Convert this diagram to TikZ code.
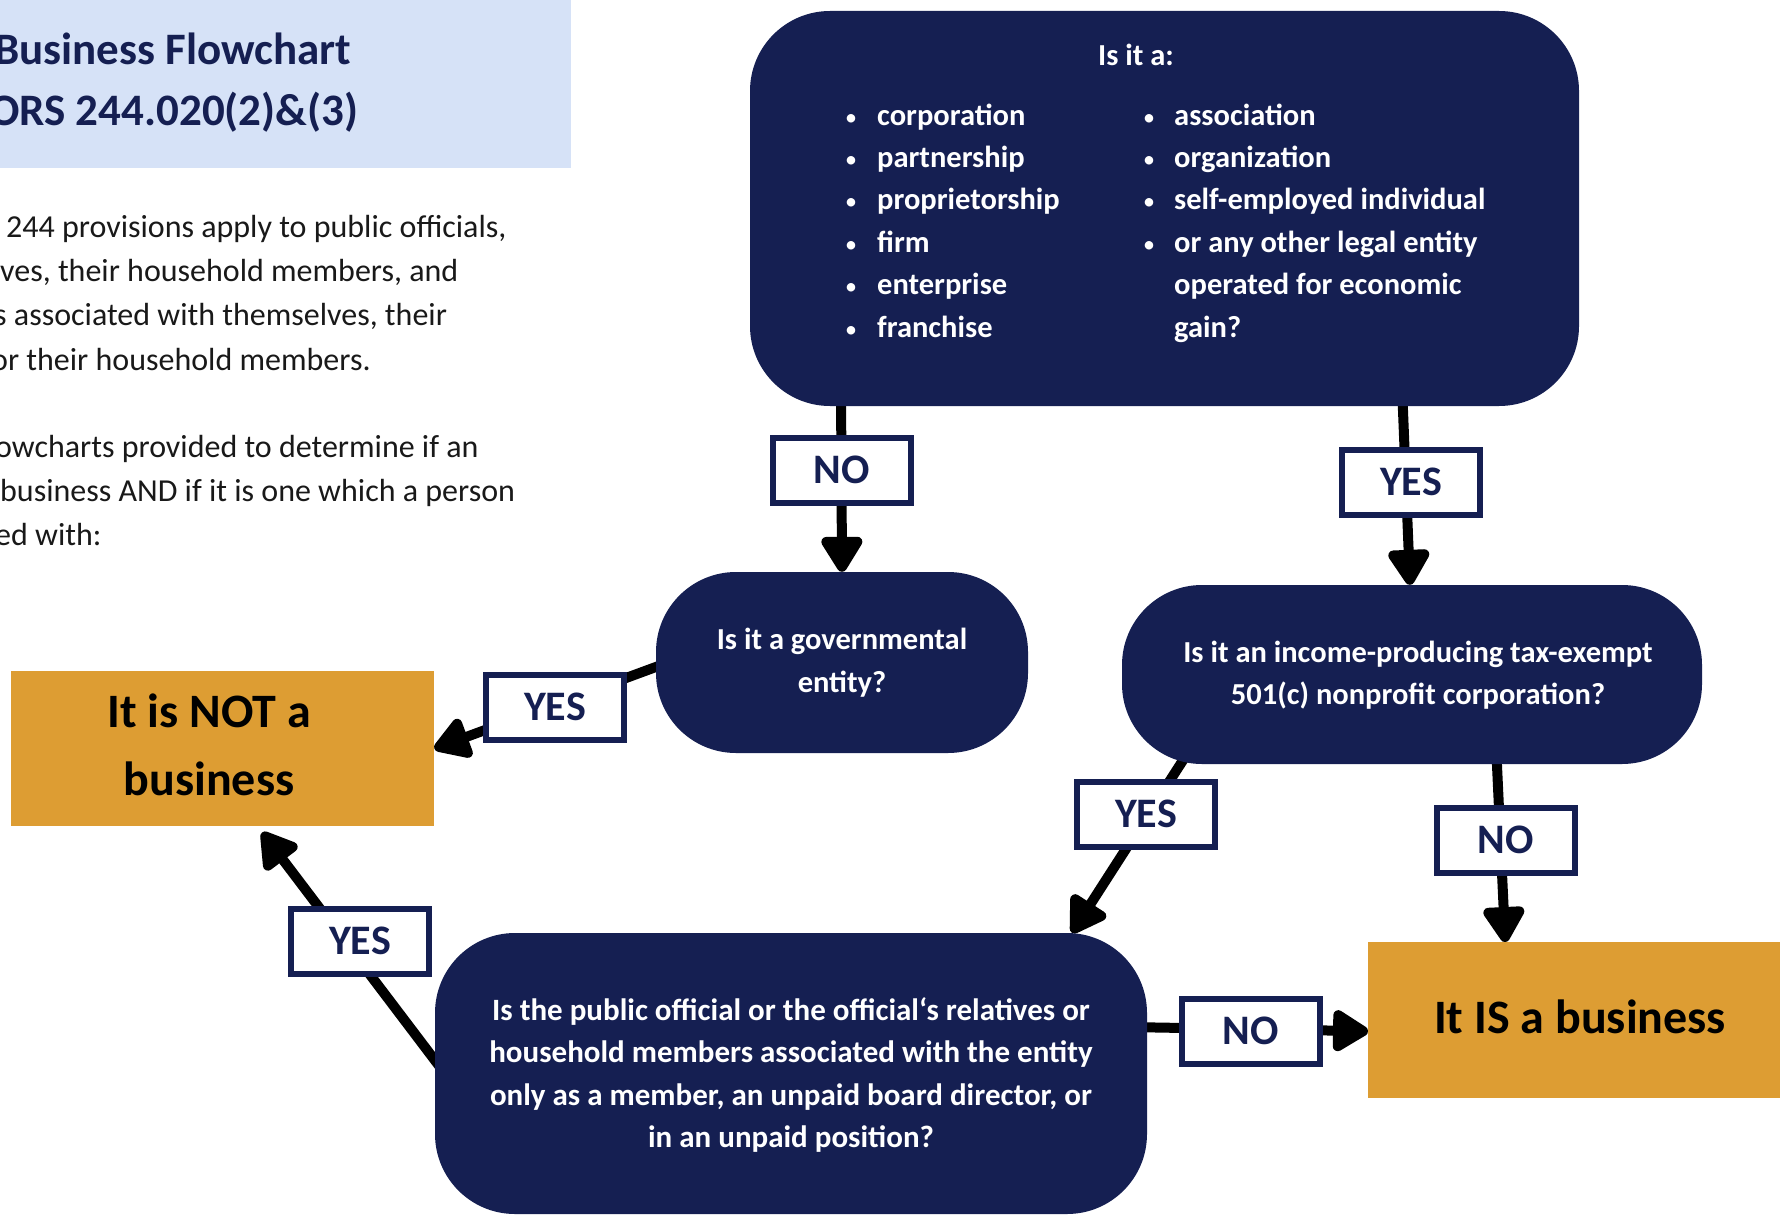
\documentclass[tikz,border=0pt]{standalone}
\usepackage{fontspec}
\setmainfont{Carlito}
\usetikzlibrary{arrows.meta,backgrounds}
\definecolor{navy}{RGB}{21,31,82}
\definecolor{gold}{RGB}{221,157,51}
\definecolor{paleblue}{RGB}{214,226,247}
\definecolor{ink}{RGB}{25,25,25}
\begin{document}
\begin{tikzpicture}[x=1pt,y=-1pt,
  qbox/.style={fill=navy, rounded corners=80pt, inner sep=0pt, text=white,
    font=\bfseries\fontsize{30.5}{42.5}\selectfont, align=center},
  resbox/.style={fill=gold, inner sep=0pt, anchor=north west},
  restext/.style={inner sep=0pt, align=center, text=black,
    font=\bfseries\fontsize{48}{68}\selectfont},
  lbl/.style={draw=navy, line width=6pt, fill=white, minimum width=138pt,
    minimum height=65pt, inner sep=0pt, text=navy,
    font=\bfseries\fontsize{42}{42}\selectfont},
  conn/.style={line width=10pt, draw=black,
    -{Triangle[length=40pt,width=46pt,round]}},
  body/.style={anchor=base west, inner sep=0pt, text=ink,
    font=\fontsize{32}{44}\selectfont},
  wt/.style={inner sep=0pt, text=white, font=\bfseries\fontsize{30.5}{42.5}\selectfont},
  item/.style={wt, anchor=base west},
  bul/.style={inner sep=0pt, text=white, anchor=base, font=\fontsize{24}{24}\selectfont},
  ttl/.style={anchor=base west, inner sep=0pt, text=navy,
    font=\bfseries\fontsize{45}{50}\selectfont},
]
\useasboundingbox (0,0) rectangle (1780,1215);
\clip (0,0) rectangle (1780,1215);

% title block
\node[fill=paleblue, minimum width=571pt, minimum height=168pt, anchor=north west, inner sep=0pt] (titlebox) at (0,0) {};
\node[ttl] (t1) at (-6,64) {Business Flowchart};
\node[ttl] (t2) at (-11,125) {ORS 244.020(2)\&(3)};

% body text
\node[body] (b1) at (6,237) {244 provisions apply to public officials,};
\node[body] (b2) at (0,281) {ves, their household members, and};
\node[body] (b3) at (-6,325) {s associated with themselves, their};
\node[body] (b4) at (-9,370) {or their household members.};
\node[body] (b5) at (-5,457) {owcharts provided to determine if an};
\node[body] (b6) at (0,501) {business AND if it is one which a person};
\node[body] (b7) at (-5,545) {ed with:};

% top question
\node[fill=navy, rounded corners=80pt, minimum width=829pt, minimum height=395pt, inner sep=0pt] (top) at (1164.5,208.5) {};
\node[wt, anchor=base] (isita) at (1136,66) {Is it a:};
\node[bul] (ba1) at (851,125) {•};
\node[bul] (ba2) at (851,167.4) {•};
\node[bul] (ba3) at (851,209.8) {•};
\node[bul] (ba4) at (851,252.2) {•};
\node[bul] (ba5) at (851,294.6) {•};
\node[bul] (ba6) at (851,337) {•};
\node[item] (ia1) at (877,125) {corporation};
\node[item] (ia2) at (877,167.4) {partnership};
\node[item] (ia3) at (877,209.8) {proprietorship};
\node[item] (ia4) at (877,252.2) {firm};
\node[item] (ia5) at (877,294.6) {enterprise};
\node[item] (ia6) at (877,337) {franchise};
\node[bul] (bb1) at (1149,125) {•};
\node[bul] (bb2) at (1149,167.4) {•};
\node[bul] (bb3) at (1149,209.8) {•};
\node[bul] (bb4) at (1149,252.2) {•};
\node[item] (ib1) at (1174,125) {association};
\node[item] (ib2) at (1174,167.4) {organization};
\node[item] (ib3) at (1174,209.8) {self-employed individual};
\node[item] (ib4) at (1174,252.2) {or any other legal entity};
\node[item] (ib5) at (1174,294.6) {operated for economic};
\node[item] (ib6) at (1174,337) {gain?};

% other questions
\node[qbox, minimum width=372pt, minimum height=181pt] (gov) at (842,662.5) {Is it a governmental\\entity?};
\node[qbox, minimum width=580pt, minimum height=179pt] (inc) at (1412,674.5) {};
\node[wt, align=center] (inctxt) at (1418,675) {Is it an income-producing tax-exempt\\501(c) nonprofit corporation?};
\node[qbox, minimum width=712pt, minimum height=281pt] (bot) at (791,1073.5) {};
\node[wt, align=center, font=\bfseries\fontsize{31}{42.5}\selectfont] (bottxt) at (791,1075) {Is the public official or the official‘s relatives or\\household members associated with the entity\\only as a member, an unpaid board director, or\\in an unpaid position?};

% results
\node[resbox, minimum width=423pt, minimum height=155pt] (notbiz) at (11,671) {};
\node[restext] (nottxt) at (209,745) {It is NOT a\\business};
\node[resbox, minimum width=432pt, minimum height=156pt] (isbiz) at (1368,942) {};
\node[restext] (istxt) at (1580,1017) {It IS a business};

% connectors
\begin{scope}[on background layer]
\fill[white] (0,0) rectangle (1780,1215);
\draw[conn] ([xshift=-323.5pt, yshift=20pt]top.south) -- (gov.north);
\draw[conn] ([xshift=237.5pt, yshift=20pt]top.south) -- ([xshift=-2pt]inc.north);
\draw[conn] ([xshift=19pt, yshift=2.5pt]gov.west) -- (notbiz.east);
\draw[conn] ([xshift=-220pt, yshift=18pt]inc.south) -- ([xshift=281pt]bot.north);
\draw[conn] ([xshift=84pt, yshift=20pt]inc.south) -- ([xshift=-79pt]isbiz.north);
\draw[conn] ([xshift=12pt, yshift=-2.5pt]bot.west) -- ([xshift=39.5pt, yshift=-6pt]notbiz.south);
\draw[conn] ([xshift=-20pt, yshift=46.5pt]bot.east) -- ([yshift=-11pt]isbiz.west);
\end{scope}

% labels
\node[lbl] (l1) at (842,470) {NO};
\node[lbl] (l2) at (1411,482) {YES};
\node[lbl] (l3) at (555,707) {YES};
\node[lbl] (l4) at (1146,814) {YES};
\node[lbl] (l5) at (1506,840) {NO};
\node[lbl] (l6) at (360,941) {YES};
\node[lbl] (l7) at (1251,1031) {NO};
\end{tikzpicture}
\end{document}
